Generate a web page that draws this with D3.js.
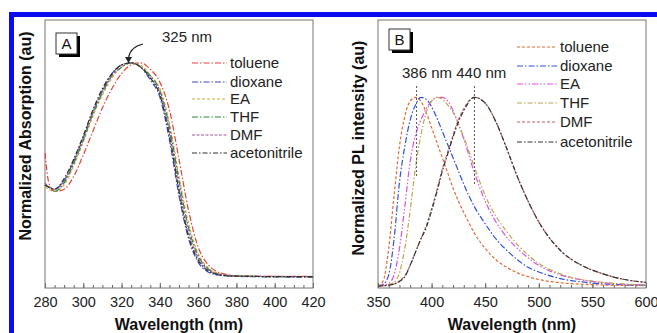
<!DOCTYPE html>
<html>
<head>
<meta charset="utf-8">
<script src="https://cdn.jsdelivr.net/npm/d3@7"></script>
<style>
  body { margin: 0; background: #fff; }
  svg { display: block; font-family: "Liberation Sans", Arial, sans-serif; }
</style>
</head>
<body>
<svg id="chart" width="657" height="333"></svg>
<script>
// solvents, same order in both panels
const solvents = ['toluene', 'dioxane', 'EA', 'THF', 'DMF', 'acetonitrile'];

// panel A: absorption
const absWave = [280, 282, 285, 290, 295, 300, 305, 310, 315, 320, 325, 330, 335, 340, 345, 350, 355, 360, 365, 370, 375, 380, 390, 400, 410, 420];
const absToluene = [0.58, 0.44, 0.40, 0.41, 0.47, 0.57, 0.68, 0.79, 0.88, 0.95, 0.99, 1.0, 0.97, 0.91, 0.78, 0.55, 0.31, 0.14, 0.06, 0.025, 0.012, 0.006, 0.004, 0.003, 0.003, 0.003];
const absDioxane = [0.43, 0.42, 0.41, 0.45, 0.54, 0.65, 0.77, 0.87, 0.95, 0.99, 1.0, 0.98, 0.92, 0.84, 0.64, 0.38, 0.18, 0.07, 0.025, 0.01, 0.005, 0.003, 0.002, 0.001, 0.0, 0.0];
const absEA = [0.42, 0.41, 0.40, 0.43, 0.52, 0.63, 0.75, 0.85, 0.93, 0.98, 1.0, 0.99, 0.94, 0.88, 0.72, 0.47, 0.25, 0.11, 0.045, 0.018, 0.009, 0.005, 0.003, 0.002, 0.002, 0.002];
const absTHF = [0.43, 0.42, 0.40, 0.44, 0.53, 0.64, 0.76, 0.86, 0.94, 0.98, 1.0, 0.98, 0.94, 0.87, 0.70, 0.45, 0.23, 0.10, 0.04, 0.015, 0.008, 0.005, 0.003, 0.002, 0.002, 0.002];
const absDMF = [0.44, 0.42, 0.41, 0.45, 0.54, 0.65, 0.77, 0.87, 0.94, 0.99, 1.0, 0.98, 0.93, 0.86, 0.68, 0.42, 0.21, 0.09, 0.035, 0.015, 0.008, 0.005, 0.004, 0.003, 0.002, 0.002];
const absAcetonitrile = [0.43, 0.42, 0.41, 0.46, 0.55, 0.66, 0.78, 0.88, 0.95, 0.99, 1.0, 0.98, 0.93, 0.85, 0.66, 0.40, 0.19, 0.08, 0.03, 0.012, 0.006, 0.004, 0.003, 0.002, 0.002, 0.002];

// panel B: photoluminescence
const plWave = [350, 355, 360, 365, 370, 375, 380, 385, 390, 395, 400, 405, 410, 415, 420, 425, 430, 440, 450, 460, 470, 480, 490, 500, 520, 540, 560, 580, 600];
const plToluene = [0.0, 0.03, 0.2, 0.48, 0.74, 0.9, 0.98, 1.0, 0.98, 0.92, 0.84, 0.76, 0.68, 0.6, 0.52, 0.45, 0.39, 0.28, 0.2, 0.14, 0.1, 0.07, 0.05, 0.035, 0.018, 0.01, 0.006, 0.004, 0.003];
const plDioxane = [0.0, 0.01, 0.06, 0.25, 0.55, 0.74, 0.88, 0.96, 1.0, 0.99, 0.95, 0.89, 0.82, 0.75, 0.68, 0.61, 0.54, 0.42, 0.33, 0.25, 0.19, 0.14, 0.1, 0.075, 0.04, 0.022, 0.012, 0.007, 0.004];
const plEA = [0.0, 0.005, 0.015, 0.06, 0.2, 0.42, 0.66, 0.8, 0.88, 0.94, 0.98, 1.0, 1.0, 0.98, 0.93, 0.86, 0.78, 0.6, 0.45, 0.34, 0.26, 0.2, 0.15, 0.11, 0.06, 0.033, 0.018, 0.01, 0.006];
const plTHF = [0.0, 0.003, 0.008, 0.02, 0.07, 0.2, 0.4, 0.63, 0.8, 0.92, 0.98, 1.0, 0.99, 0.96, 0.92, 0.86, 0.79, 0.63, 0.48, 0.37, 0.29, 0.22, 0.165, 0.12, 0.065, 0.035, 0.02, 0.011, 0.006];
const plDMF = [0.0, 0.002, 0.005, 0.011, 0.027, 0.055, 0.11, 0.18, 0.25, 0.32, 0.41, 0.51, 0.62, 0.71, 0.8, 0.88, 0.94, 1.0, 0.97, 0.87, 0.73, 0.58, 0.45, 0.34, 0.19, 0.11, 0.065, 0.035, 0.02];
const plAcetonitrile = [0.0, 0.002, 0.005, 0.01, 0.025, 0.05, 0.11, 0.18, 0.25, 0.31, 0.4, 0.5, 0.61, 0.7, 0.79, 0.87, 0.93, 1.0, 0.97, 0.87, 0.73, 0.58, 0.45, 0.34, 0.19, 0.11, 0.065, 0.035, 0.02];

const absTicks = [280, 300, 320, 340, 360, 380, 400, 420];
const plTicks = [350, 400, 450, 500, 550, 600];
const plPeaks = [386, 440];

const absSeries = [absToluene, absDioxane, absEA, absTHF, absDMF, absAcetonitrile];
const plSeries = [plToluene, plDioxane, plEA, plTHF, plDMF, plAcetonitrile];

const absColors = ['#e8403c', '#3a48c8', '#c8b040', '#2a8a40', '#a05a90', '#303030'];
const absDash = ['6,2,1.5,2', '6,2,1.5,2', '3,2', '6,2,1.5,2', '3,1.5', '5,2,1.5,2'];
const plColors = ['#e86a30', '#3050e0', '#e050e0', '#b8a850', '#c06060', '#333333'];
const plDash = ['3,2', '6,2,1.5,2', '6,2,1.5,2,1.5,2', '5,2,1.5,2', '3,2', '5,2,1.5,2'];

const svg = d3.select('#chart');

// blue journal frame
svg.append('rect').attr('x', 9).attr('y', 12).attr('width', 648).attr('height', 5).attr('fill', '#0b0bf2');
svg.append('rect').attr('x', 9).attr('y', 12).attr('width', 5).attr('height', 321).attr('fill', '#0b0bf2');

function panel(opts) {
  const x = d3.scaleLinear().domain(opts.xDomain).range([opts.left, opts.right]);
  const y = d3.scaleLinear().domain(opts.yDomain).range([288, 20]);
  const g = svg.append('g');

  // minor ticks
  g.append('g')
    .attr('transform', 'translate(0,288)')
    .call(d3.axisBottom(x).tickValues(d3.range(opts.xDomain[0], opts.xDomain[1] + 0.1, opts.minor))
      .tickSizeInner(-3).tickSizeOuter(0).tickFormat(''))
    .call(a => a.select('.domain').remove())
    .selectAll('line').attr('stroke', '#666');

  const ax = g.append('g')
    .attr('transform', 'translate(0,288)')
    .call(d3.axisBottom(x).tickValues(opts.ticks).tickSizeInner(-5).tickSizeOuter(0).tickPadding(9));
  ax.select('.domain').remove();
  ax.selectAll('line').attr('stroke', '#666');
  ax.selectAll('text').attr('font-size', '14.5px').attr('fill', '#222')
    .attr('font-family', '"Liberation Sans", Arial, sans-serif');

  // frame
  g.append('rect')
    .attr('x', opts.left).attr('y', 20)
    .attr('width', opts.right - opts.left).attr('height', 268)
    .attr('fill', 'none').attr('stroke', '#777').attr('stroke-width', 1);

  // curves
  const line = d3.line().x((d, i) => x(opts.wave[i])).y(d => y(d)).curve(d3.curveMonotoneX);
  opts.series.forEach((s, i) => {
    g.append('path')
      .attr('d', line(s))
      .attr('fill', 'none')
      .attr('stroke', opts.colors[i])
      .attr('stroke-width', 1.2)
      .attr('stroke-dasharray', opts.dash[i]);
  });

  // legend
  solvents.forEach((name, i) => {
    const ly = opts.legendY[i];
    g.append('line')
      .attr('x1', opts.legendX).attr('x2', opts.legendX + opts.legendLen)
      .attr('y1', ly).attr('y2', ly)
      .attr('stroke', opts.colors[i]).attr('stroke-width', 1.2)
      .attr('stroke-dasharray', opts.dash[i]);
    g.append('text')
      .attr('x', opts.legendX + opts.legendLen + 3).attr('y', ly + 5)
      .attr('font-size', '15px').attr('fill', '#222')
      .text(name);
  });

  // panel letter with shadow box
  const b = opts.box;
  g.append('path')
    .attr('d', `M${b.x + 21 + 1.5},${b.y + 3} V${b.y + 22.5} H${b.x + 3}`)
    .attr('fill', 'none').attr('stroke', '#000').attr('stroke-width', 3);
  g.append('rect').attr('x', b.x).attr('y', b.y).attr('width', 21).attr('height', 21)
    .attr('fill', '#fff').attr('stroke', '#333').attr('stroke-width', 1);
  g.append('text').attr('x', b.x + 10.5).attr('y', b.y + 16)
    .attr('text-anchor', 'middle').attr('font-size', '15px').attr('fill', '#111')
    .text(opts.letter);

  // axis titles
  g.append('text')
    .attr('x', (opts.left + opts.right) / 2).attr('y', 330)
    .attr('text-anchor', 'middle').attr('font-size', '16px').attr('font-weight', 'bold').attr('fill', '#111')
    .text('Wavelength (nm)');
  g.append('text')
    .attr('transform', `translate(${opts.yTitleX},${opts.yTitleY}) rotate(-90)`)
    .attr('text-anchor', 'middle').attr('font-size', '16px').attr('font-weight', 'bold').attr('fill', '#111')
    .text(opts.yTitle);

  return { g, x, y };
}

const A = panel({
  xDomain: [280, 420], left: 45, right: 313, minor: 5, ticks: absTicks,
  yDomain: [-0.051, 1.2], wave: absWave, series: absSeries,
  colors: absColors, dash: absDash,
  legendX: 192, legendLen: 35, legendY: [63, 82, 99, 117, 135, 153],
  box: { x: 56, y: 33 }, letter: 'A',
  yTitle: 'Normalized Absorption (au)', yTitleX: 31, yTitleY: 136
});

const B = panel({
  xDomain: [350, 600], left: 378, right: 646, minor: 10, ticks: plTicks,
  yDomain: [-0.01, 1.41], wave: plWave, series: plSeries,
  colors: plColors, dash: plDash,
  legendX: 517, legendLen: 40, legendY: [47, 66, 84, 103, 122, 142],
  box: { x: 389, y: 29 }, letter: 'B',
  yTitle: 'Normalized PL intensity (au)', yTitleX: 364, yTitleY: 148
});

// 325 nm annotation with curved arrow
A.g.append('text').attr('x', 162).attr('y', 42).attr('font-size', '15px').attr('fill', '#222').text('325 nm');
A.g.append('path').attr('d', 'M143,44 Q130,47 128.5,58').attr('fill', 'none').attr('stroke', '#222').attr('stroke-width', 1.1);
A.g.append('path').attr('d', 'M125,57 L132,57 L128.5,63 Z').attr('fill', '#222');

// peak markers in B
B.g.append('text').attr('x', 402).attr('y', 78).attr('font-size', '15px').attr('fill', '#222').text('386 nm 440 nm');
const markerEnd = [178, 186];
plPeaks.forEach((p, i) => {
  B.g.append('line')
    .attr('x1', B.x(p)).attr('x2', B.x(p))
    .attr('y1', 86).attr('y2', markerEnd[i])
    .attr('stroke', '#555').attr('stroke-width', 1).attr('stroke-dasharray', '2,2');
});
</script>
</body>
</html>
